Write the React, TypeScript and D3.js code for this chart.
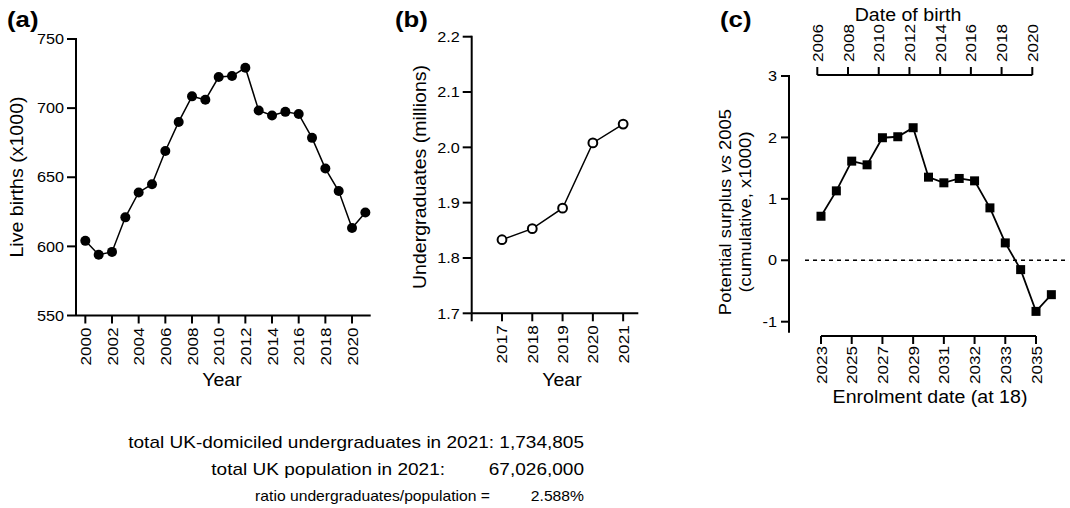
import React from "react";
import * as d3 from "d3";

// Panel (a): live births (x1000)
const birthYears = [2000,2001,2002,2003,2004,2005,2006,2007,2008,2009,2010,2011,2012,2013,2014,2015,2016,2017,2018,2019,2020,2021];
const births = [604,594,596,621,639,645,669,690,708.5,706,722.5,723.2,729.2,698.3,694.7,697.3,695.7,678.5,656.3,640,613.3,624.5];
const aXTicks = [2000,2002,2004,2006,2008,2010,2012,2014,2016,2018,2020];
const aYTicks = [550,600,650,700,750];

// Panel (b): undergraduates (millions)
const ugYears = [2017,2018,2019,2020,2021];
const undergrads = [1.833,1.853,1.890,2.008,2.042];
const bYTicks = [1.7,1.8,1.9,2.0,2.1,2.2];

// Panel (c): potential surplus vs 2005 (cumulative, x1000)
const surplus = [0.717,1.13,1.614,1.554,1.995,2.011,2.158,1.353,1.261,1.332,1.293,0.853,0.283,-0.152,-0.832,-0.56];
const enrolLabels = ["2023","2025","2027","2029","2031","2032","2033","2035"];
const birthTicks = [2006,2008,2010,2012,2014,2016,2018,2020];
const cYTicks = [-1,0,1,2,3];

// Summary text
const summaryLines = [
  { label: "total UK-domiciled undergraduates in 2021:", value: "1,734,805" },
  { label: "total UK population in 2021:", value: "67,026,000" },
  { label: "ratio undergraduates/population =", value: "2.588%" },
];

const FONT = "'Liberation Sans', Arial, Helvetica, sans-serif";
const SX = 1.12;

function T({ x, y, rot = 0, anchor = "start", size = 14, weight = "normal", children, dy = "0", sx = SX }: any) {
  return (
    <g transform={`translate(${x},${y}) rotate(${rot})`}>
      <text transform={`scale(${sx},1)`} textAnchor={anchor} fontSize={size} fontWeight={weight} dy={dy} fontFamily={FONT} fill="#000">
        {children}
      </text>
    </g>
  );
}

export default function App() {
  const xA = d3.scaleLinear().domain([1999.3, 2021.4]).range([76, 370.7]);
  const yA = d3.scaleLinear().domain([550, 750]).range([315.5, 39]);
  const lineA = d3.line<number>().x((_, i) => xA(birthYears[i])).y((d) => yA(d));

  const xB = d3.scaleLinear().domain([2016, 2021.5]).range([471.7, 638.3]);
  const yB = d3.scaleLinear().domain([1.7, 2.2]).range([313.3, 36.7]);
  const lineB = d3.line<number>().x((_, i) => xB(ugYears[i])).y((d) => yB(d));

  const xC = d3.scaleLinear().domain([0, 14]).range([821, 1036]);
  const xTop = d3.scaleLinear().domain([2006, 2020]).range([817.3, 1032.3]);
  const yC = d3.scaleLinear().domain([-1, 3]).range([321.7, 76]);
  const lineC = d3.line<number>().x((_, i) => xC(i)).y((d) => yC(d));

  const axisW = 2;
  const tickLen = 8;
  const tickFs = 14.5;
  const xTickFs = 15.3;
  const titleFs = 17.5;

  return (
    <svg width={1070} height={508} style={{ position: "absolute", left: 0, top: 0, background: "#fff" }}>
      <rect x={0} y={0} width={1070} height={508} fill="#fff" />

      <T x={7} y={27} size={23} weight="bold">(a)</T>
      <T x={395} y={27} size={23} weight="bold">(b)</T>
      <T x={720} y={27} size={23} weight="bold">(c)</T>

      {/* ===== Panel A ===== */}
      <g stroke="#000" strokeWidth={axisW} fill="none">
        <line x1={xA.range()[0]} x2={xA.range()[0]} y1={yA(750) - 1} y2={yA(550)} />
        <line x1={xA.range()[0]} x2={xA.range()[1]} y1={yA(550)} y2={yA(550)} />
        {aYTicks.map((t) => (
          <line key={t} x1={xA.range()[0] - 9} x2={xA.range()[0]} y1={yA(t)} y2={yA(t)} />
        ))}
        {aXTicks.map((t) => (
          <line key={t} x1={xA(t)} x2={xA(t)} y1={yA(550)} y2={yA(550) + tickLen} />
        ))}
      </g>
      {aYTicks.map((t) => (
        <T key={t} x={xA.range()[0] - 12} y={yA(t)} anchor="end" size={tickFs} dy="0.36em">{t}</T>
      ))}
      {aXTicks.map((t) => (
        <T key={t} x={xA(t) + 5.5} y={yA(550) + 12} rot={-90} anchor="end" size={xTickFs}>{t}</T>
      ))}
      <T x={23} y={177} rot={-90} anchor="middle" size={titleFs}>Live births (x1000)</T>
      <T x={222} y={386} anchor="middle" size={titleFs}>Year</T>
      <path d={lineA(births) || ""} fill="none" stroke="#000" strokeWidth={1.5} />
      {births.map((v, i) => (
        <circle key={i} cx={xA(birthYears[i])} cy={yA(v)} r={5} fill="#000" />
      ))}

      {/* ===== Panel B ===== */}
      <g stroke="#000" strokeWidth={axisW} fill="none">
        <line x1={xB.range()[0]} x2={xB.range()[0]} y1={yB(2.2) - 1} y2={yB(1.7)} />
        <line x1={xB.range()[0]} x2={xB.range()[1]} y1={yB(1.7)} y2={yB(1.7)} />
        {bYTicks.map((t) => (
          <line key={t} x1={xB.range()[0] - 9} x2={xB.range()[0]} y1={yB(t)} y2={yB(t)} />
        ))}
        {[2016, ...ugYears].map((t) => (
          <line key={t} x1={xB(t)} x2={xB(t)} y1={yB(1.7)} y2={yB(1.7) + tickLen} />
        ))}
      </g>
      {bYTicks.map((t) => (
        <T key={t} x={xB.range()[0] - 12} y={yB(t)} anchor="end" size={tickFs} dy="0.36em">{t.toFixed(1)}</T>
      ))}
      {ugYears.map((t) => (
        <T key={t} x={xB(t) + 5.5} y={yB(1.7) + 12} rot={-90} anchor="end" size={xTickFs}>{t}</T>
      ))}
      <T x={426} y={177} rot={-90} anchor="middle" size={titleFs}>Undergraduates (millions)</T>
      <T x={562} y={386} anchor="middle" size={titleFs}>Year</T>
      <path d={lineB(undergrads) || ""} fill="none" stroke="#000" strokeWidth={1.5} />
      {undergrads.map((v, i) => (
        <circle key={i} cx={xB(ugYears[i])} cy={yB(v)} r={4.4} fill="#fff" stroke="#000" strokeWidth={2} />
      ))}

      {/* ===== Panel C ===== */}
      <g stroke="#000" strokeWidth={axisW} fill="none">
        <line x1={789} x2={789} y1={yC(3) - 1} y2={yC(-1.18)} />
        {cYTicks.map((t) => (
          <line key={t} x1={781} x2={789} y1={yC(t)} y2={yC(t)} />
        ))}
        <line x1={xC(0)} x2={xC(14)} y1={336} y2={336} />
        {enrolLabels.map((_, k) => (
          <line key={k} x1={xC(k * 2)} x2={xC(k * 2)} y1={336} y2={336 + tickLen} />
        ))}
        <line x1={xTop(2006)} x2={xTop(2020)} y1={75} y2={75} />
        {birthTicks.map((t) => (
          <line key={t} x1={xTop(t)} x2={xTop(t)} y1={75} y2={75 - tickLen} />
        ))}
      </g>
      {cYTicks.map((t) => (
        <T key={t} x={777} y={yC(t)} anchor="end" size={tickFs} dy="0.36em">{t}</T>
      ))}
      {enrolLabels.map((l, k) => (
        <T key={l} x={xC(k * 2) + 5.5} y={346} rot={-90} anchor="end" size={xTickFs}>{l}</T>
      ))}
      {birthTicks.map((t) => (
        <T key={t} x={xTop(t) + 5.5} y={62} rot={-90} anchor="start" size={xTickFs}>{t}</T>
      ))}
      <T x={908} y={21} anchor="middle" size={titleFs}>Date of birth</T>
      <T x={930} y={403} anchor="middle" size={titleFs}>Enrolment date (at 18)</T>
      <g transform="translate(731,212) rotate(-90)">
        <text transform={`scale(${SX},1)`} textAnchor="middle" fontSize={16.5} fontFamily={FONT}>
          Potential surplus <tspan fontStyle="italic">vs</tspan> 2005
        </text>
      </g>
      <T x={751} y={212} rot={-90} anchor="middle" size={16.5}>(cumulative, x1000)</T>
      <line x1={805} x2={1066} y1={yC(0)} y2={yC(0)} stroke="#000" strokeWidth={1.5} strokeDasharray="4,4" />
      <path d={lineC(surplus) || ""} fill="none" stroke="#000" strokeWidth={1.8} />
      {surplus.map((v, i) => (
        <rect key={i} x={xC(i) - 4.5} y={yC(v) - 4.5} width={9} height={9} fill="#000" />
      ))}

      {/* ===== Summary text ===== */}
      <T x={584} y={448} anchor="end" size={17}>{summaryLines[0].label + " " + summaryLines[0].value}</T>
      <T x={445} y={475} anchor="end" size={17}>{summaryLines[1].label}</T>
      <T x={584} y={475} anchor="end" size={17}>{summaryLines[1].value}</T>
      <T x={490} y={501} anchor="end" size={14}>{summaryLines[2].label}</T>
      <T x={584} y={501} anchor="end" size={14}>{summaryLines[2].value}</T>
    </svg>
  );
}
